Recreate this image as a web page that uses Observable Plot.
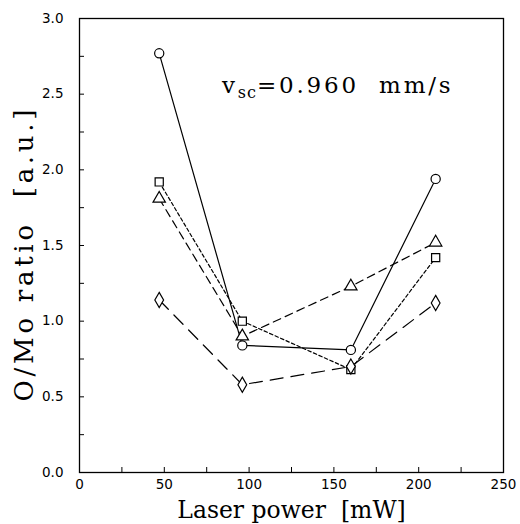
<!DOCTYPE html>
<html>
<head>
<meta charset="utf-8">
<script src="https://cdn.jsdelivr.net/npm/d3@7"></script>
<script src="https://cdn.jsdelivr.net/npm/@observablehq/plot@0.6"></script>
<style>
  html, body { margin: 0; padding: 0; background: #fff; }
  #chart { width: 520px; height: 524px; }
</style>
</head>
<body>
<div id="chart"></div>
<script>
// Laser power [mW]
const power = [47, 96, 160, 210];
// O/Mo ratio series (marker shapes)
const circleVals   = [2.77, 0.84, 0.81, 1.94];
const squareVals   = [1.92, 1.00, 0.68, 1.42];
const triangleVals = [1.81, 0.90, 1.23, 1.52];
const diamondVals  = [1.14, 0.58, 0.70, 1.12];

const xMajor = [0, 50, 100, 150, 200, 250];
const xMinor = [25, 75, 125, 175, 225];
const yMajor = [0, 0.5, 1.0, 1.5, 2.0, 2.5, 3.0];
const yMinor = [0.25, 0.75, 1.25, 1.75, 2.25, 2.75];

const xTitle = "Laser power  [mW]";
const yTitle = "O/Mo ratio  [a.u.]";
const note = ["v", "sc", "=0.960  mm/s"];

const series = [
  {name: "circle", vals: circleVals, symbol: "circle", dash: null},
  {name: "square", vals: squareVals, symbol: "square", dash: "3.5,2.5"},
  {name: "triangle", vals: triangleVals, symbol: "triangle", dash: "8,5"},
  {name: "diamond", vals: diamondVals, symbol: "diamond", dash: "13,8"}
];

const rows = series.map(s => s.vals.map((v, i) => ({series: s.name, x: power[i], y: v})));

const serif = "DejaVu Serif, serif";
const sans = "DejaVu Sans, sans-serif";

const marks = [];
series.forEach((s, k) => {
  marks.push(Plot.line(rows[k], {x: "x", y: "y", stroke: "black", strokeWidth: 1.2,
    strokeDasharray: s.dash || undefined}));
});
series.forEach((s, k) => {
  marks.push(Plot.dot(rows[k], {x: "x", y: "y", symbol: () => s.symbol, r: 4.6,
    fill: "white", stroke: "black", strokeWidth: 1.2}));
});

const chart = Plot.plot({
  width: 520,
  height: 524,
  marginLeft: 79,
  marginRight: 17,
  marginTop: 18,
  marginBottom: 52,
  style: {fontFamily: sans, fontSize: "13.5px", color: "black", background: "white"},
  x: {domain: [0, 250]},
  y: {domain: [0, 3]},
  symbol: {type: "identity"},
  marks: [
    Plot.axisX({ticks: xMajor, tickSize: 0, tickPadding: 7, tickFormat: d => String(d), label: null, fontSize: 13.5}),
    Plot.axisX({ticks: xMajor.concat(xMinor), tickSize: -5, tickFormat: () => "", label: null}),
    Plot.axisY({ticks: yMajor, tickSize: 0, tickPadding: 16, tickFormat: d => d.toFixed(1), label: null, fontSize: 13.5}),
    Plot.axisY({ticks: yMajor.concat(yMinor), tickSize: -5, tickFormat: () => "", label: null}),
    Plot.frame({stroke: "black", strokeWidth: 1.3}),
    ...marks,
    Plot.text([note.join("")], {x: 84, y: 2.507, text: d => d, textAnchor: "start", lineAnchor: "bottom",
      fontSize: 23, fontFamily: serif}),
    Plot.text([xTitle], {frameAnchor: "bottom", dy: 45, lineAnchor: "bottom", textAnchor: "middle", text: d => d, fontSize: 23.5, fontFamily: serif}),
    Plot.text([yTitle], {frameAnchor: "left", dx: -55, dy: 10, rotate: -90, textAnchor: "middle", text: d => d, fontSize: 26, fontFamily: serif})
  ]
});

// subscript for the annotation, and spacing for the serif texts
d3.select(chart).selectAll("text").filter(function() { return this.textContent === note.join(""); })
  .each(function() {
    const t = d3.select(this);
    t.text(null).attr("letter-spacing", 2.8);
    t.append("tspan").text(note[0]);
    t.append("tspan").attr("dy", 5).attr("font-size", 16).attr("letter-spacing", 1).text(note[1]);
    t.append("tspan").attr("dy", -5).text(note[2]);
  });
d3.select(chart).selectAll("text").filter(function() { return this.textContent === yTitle; })
  .attr("textLength", 292).attr("lengthAdjust", "spacing");

document.getElementById("chart").appendChild(chart);
</script>
</body>
</html>
